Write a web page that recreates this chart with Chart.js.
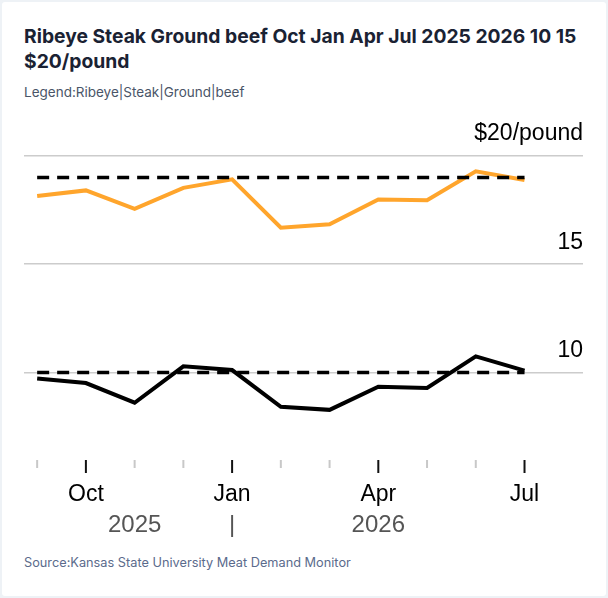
<!DOCTYPE html>
<html>
<head>
<meta charset="utf-8">
<script src="https://cdn.jsdelivr.net/npm/chart.js@4"></script>
<style>
  html, body { margin: 0; padding: 0; background: #eef2f6; }
  .card { position: absolute; left: 2px; top: 2px; width: 604px; height: 594px; background: #fff; border-radius: 3px; }
  .title { position: absolute; left: 22px; top: 22px; width: 575px; font: 700 19.3px/25px Inter, sans-serif; color: #1a2233; }
  .subtitle { position: absolute; left: 22px; top: 81px; font: 400 13.5px/18px Inter, sans-serif; color: #4a5568; }
  .source { position: absolute; left: 22px; top: 552px; font: 400 12.75px/18px Inter, sans-serif; color: #5b6b8c; }
  .wrap { position: absolute; left: 22px; top: 98px; width: 560px; height: 441px; }
</style>
</head>
<body>
<div class="card">
  <div class="title">Ribeye Steak Ground beef Oct Jan Apr Jul 2025 2026 10 15 $20/pound</div>
  <div class="subtitle">Legend:Ribeye|Steak|Ground|beef</div>
  <div class="wrap"><canvas id="beefChart"></canvas></div>
  <div class="source">Source:Kansas State University Meat Demand Monitor</div>
</div>
<script>
// Sep 2025 .. Jul 2026, monthly
const months = ['Sep', 'Oct', 'Nov', 'Dec', 'Jan', 'Feb', 'Mar', 'Apr', 'May', 'Jun', 'Jul'];
const majorMonths = ['Oct', 'Jan', 'Apr', 'Jul'];
const ribeye = [18.15, 18.41, 17.56, 18.53, 18.92, 16.69, 16.85, 17.99, 17.96, 19.29, 18.89];
const ground = [9.72, 9.51, 8.60, 10.28, 10.11, 8.41, 8.27, 9.34, 9.28, 10.74, 10.08];
const ribeyeRef = [19.01, 19.01, 19.01, 19.01, 19.01, 19.01, 19.01, 19.01, 19.01, 19.01, 19.01];
const groundRef = [10.0, 10.0, 10.0, 10.0, 10.0, 10.0, 10.0, 10.0, 10.0, 10.0, 10.0];
const yTicks = [10, 15, 20];
const yearTicks = [2, 4, 7];           // month index where year labels sit
const yearLabels = ['2025', '|', '2026'];

const toPoints = arr => arr.map((v, i) => ({ x: i, y: v }));

// month tick marks, longer and darker on the labelled months
const tickMarks = {
  id: 'tickMarks',
  afterDraw(chart) {
    const { ctx, chartArea, scales } = chart;
    ctx.save();
    months.forEach((m, i) => {
      const x = scales.x.getPixelForValue(i);
      const major = majorMonths.includes(m);
      ctx.beginPath();
      ctx.strokeStyle = major ? '#111' : '#c8c8c8';
      ctx.lineWidth = 2;
      ctx.moveTo(x, chartArea.bottom + 1);
      ctx.lineTo(x, chartArea.bottom + (major ? 14 : 9));
      ctx.stroke();
    });
    ctx.restore();
  }
};

const lineDs = (data, color, dashed) => ({
  data: toPoints(data),
  borderColor: color,
  borderWidth: dashed ? 3.5 : 4,
  borderDash: dashed ? [12, 8] : [],
  pointRadius: 0,
  tension: 0,
  fill: false
});

new Chart(document.getElementById('beefChart'), {
  type: 'line',
  data: {
    datasets: [
      lineDs(ribeyeRef, '#000', true),
      lineDs(groundRef, '#000', true),
      lineDs(ribeye, '#ffa52c', false),
      lineDs(ground, '#000', false)
    ]
  },
  options: {
    responsive: true,
    maintainAspectRatio: false,
    animation: false,
    layout: { padding: { top: 56, left: 0, right: 1, bottom: 0 } },
    plugins: { legend: { display: false }, tooltip: { enabled: false } },
    scales: {
      x: {
        type: 'linear',
        min: -0.27,
        max: 11.2,
        afterBuildTicks: s => { s.ticks = months.map((m, i) => ({ value: i })); },
        afterFit: s => { s.height = 50; s.paddingLeft = 0; s.paddingRight = 0; },
        grid: { display: false, drawTicks: false },
        border: { display: false },
        ticks: {
          padding: 22,
          autoSkip: false,
          maxRotation: 0,
          color: '#000',
          font: { family: 'Liberation Sans, Arial, sans-serif', size: 23 },
          callback: v => majorMonths.includes(months[v]) ? months[v] : ''
        }
      },
      years: {
        type: 'linear',
        position: 'bottom',
        min: -0.27,
        max: 11.2,
        afterBuildTicks: s => { s.ticks = yearTicks.map(v => ({ value: v })); },
        afterFit: s => { s.height = 32; s.paddingLeft = 0; s.paddingRight = 0; },
        grid: { display: false, drawTicks: false },
        border: { display: false },
        ticks: {
          padding: 2,
          autoSkip: false,
          maxRotation: 0,
          color: '#555',
          font: { family: 'Liberation Sans, Arial, sans-serif', size: 24 },
          callback: v => yearLabels[yearTicks.indexOf(v)]
        }
      },
      y: {
        position: 'right',
        min: 6,
        max: 20,
        afterBuildTicks: s => { s.ticks = yTicks.map(v => ({ value: v })); },
        grid: { color: '#cccccc', lineWidth: 1.5, drawTicks: false },
        border: { display: false },
        ticks: {
          mirror: true,
          padding: 0,
          labelOffset: -22,
          color: '#000',
          font: { family: 'Liberation Sans, Arial, sans-serif', size: 23 },
          callback: v => v === 20 ? '$20/pound' : String(v)
        }
      }
    }
  },
  plugins: [tickMarks]
});
</script>
</body>
</html>
